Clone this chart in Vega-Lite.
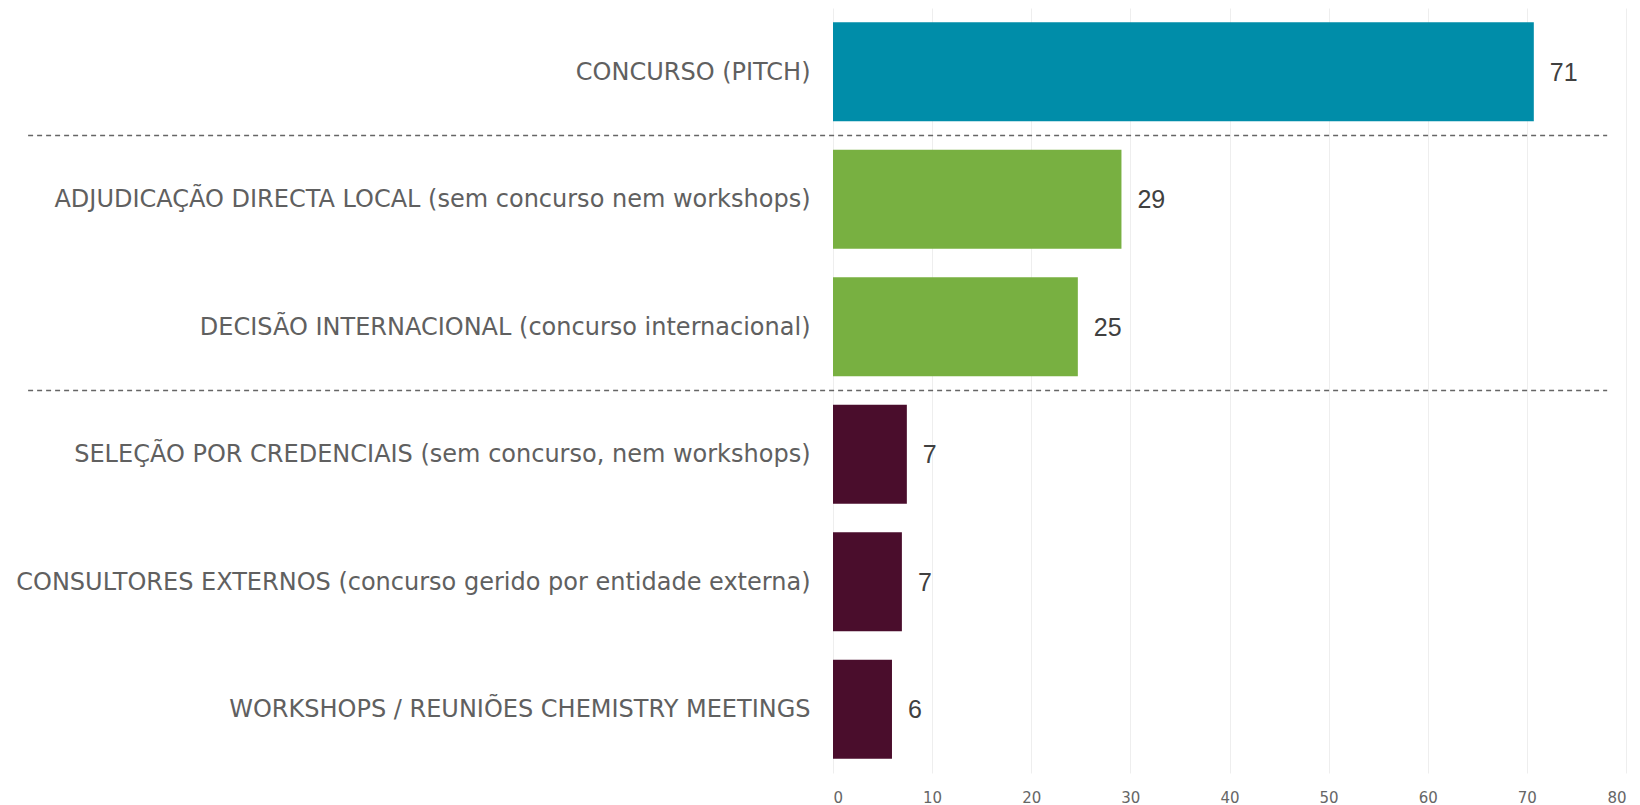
{
  "$schema": "https://vega.github.io/schema/vega-lite/v6.json",
  "autosize": {"type": "none"},
  "width": 793,
  "height": 765,
  "padding": {"left": 833, "top": 8, "right": 14, "bottom": 32},
  "background": "white",
  "config": {"view": {"stroke": null}},
  "datasets": {
    "bars": [
      {"categoria": "CONCURSO (PITCH)", "valor": 70.7, "grupo": "A"},
      {"categoria": "ADJUDICAÇÃO DIRECTA LOCAL (sem concurso nem workshops)", "valor": 29.1, "grupo": "B"},
      {"categoria": "DECISÃO INTERNACIONAL (concurso internacional)", "valor": 24.7, "grupo": "B"},
      {"categoria": "SELEÇÃO POR CREDENCIAIS (sem concurso, nem workshops)", "valor": 7.45, "grupo": "C"},
      {"categoria": "CONSULTORES EXTERNOS (concurso gerido por entidade externa)", "valor": 6.95, "grupo": "C"},
      {"categoria": "WORKSHOPS / REUNIÕES CHEMISTRY MEETINGS\u2002", "valor": 5.95, "grupo": "C"}
    ],
    "separadores": [
      {"categoria": "ADJUDICAÇÃO DIRECTA LOCAL (sem concurso nem workshops)"},
      {"categoria": "SELEÇÃO POR CREDENCIAIS (sem concurso, nem workshops)"}
    ]
  },
  "layer": [
    {
      "data": {"name": "bars"},
      "mark": {"type": "bar"},
      "encoding": {
        "y": {
          "field": "categoria", "type": "nominal", "sort": null,
          "scale": {
            "domain": [
              "CONCURSO (PITCH)",
              "ADJUDICAÇÃO DIRECTA LOCAL (sem concurso nem workshops)",
              "DECISÃO INTERNACIONAL (concurso internacional)",
              "SELEÇÃO POR CREDENCIAIS (sem concurso, nem workshops)",
              "CONSULTORES EXTERNOS (concurso gerido por entidade externa)",
              "WORKSHOPS / REUNIÕES CHEMISTRY MEETINGS\u2002"
            ],
            "paddingInner": 0.224, "paddingOuter": 0.112
          },
          "axis": {
            "title": null, "ticks": false, "domain": false, "grid": false,
            "labelPadding": 23, "labelLimit": 0, "labelOffset": 1,
            "labelFont": "DejaVu Sans", "labelFontWeight": "normal", "labelFontSize": 24,
            "labelColor": "#606060"
          }
        },
        "x": {
          "field": "valor", "type": "quantitative",
          "scale": {"domain": [0, 80], "nice": false},
          "axis": {
            "title": null, "ticks": false, "domain": false,
            "values": [0, 10, 20, 30, 40, 50, 60, 70, 80],
            "gridColor": "#eeeeee", "gridWidth": 1,
            "labelPadding": 17, "labelFont": "DejaVu Sans",
            "labelFontSize": 15, "labelColor": "#666666"
          }
        },
        "color": {
          "field": "grupo", "type": "nominal",
          "scale": {"domain": ["A", "B", "C"], "range": ["#008DA9", "#78B041", "#4A0D2C"]},
          "legend": null
        }
      }
    },
    {
      "data": {"name": "bars"},
      "mark": {"type": "text", "align": "left", "baseline": "middle", "dx": 16, "dy": 1, "font": "Liberation Sans", "fontSize": 25, "color": "#404040"},
      "encoding": {
        "y": {"field": "categoria", "type": "nominal", "sort": null},
        "x": {"field": "valor", "type": "quantitative"},
        "text": {"field": "valor", "type": "quantitative", "format": ".0f"}
      }
    },
    {
      "data": {"name": "separadores"},
      "mark": {"type": "rule", "strokeDash": [5, 4], "strokeWidth": 1.5, "color": "#666666"},
      "encoding": {
        "y": {"field": "categoria", "type": "nominal", "sort": null, "bandPosition": -0.1443},
        "x": {"datum": -81.2},
        "x2": {"datum": 78.1}
      }
    }
  ]
}
